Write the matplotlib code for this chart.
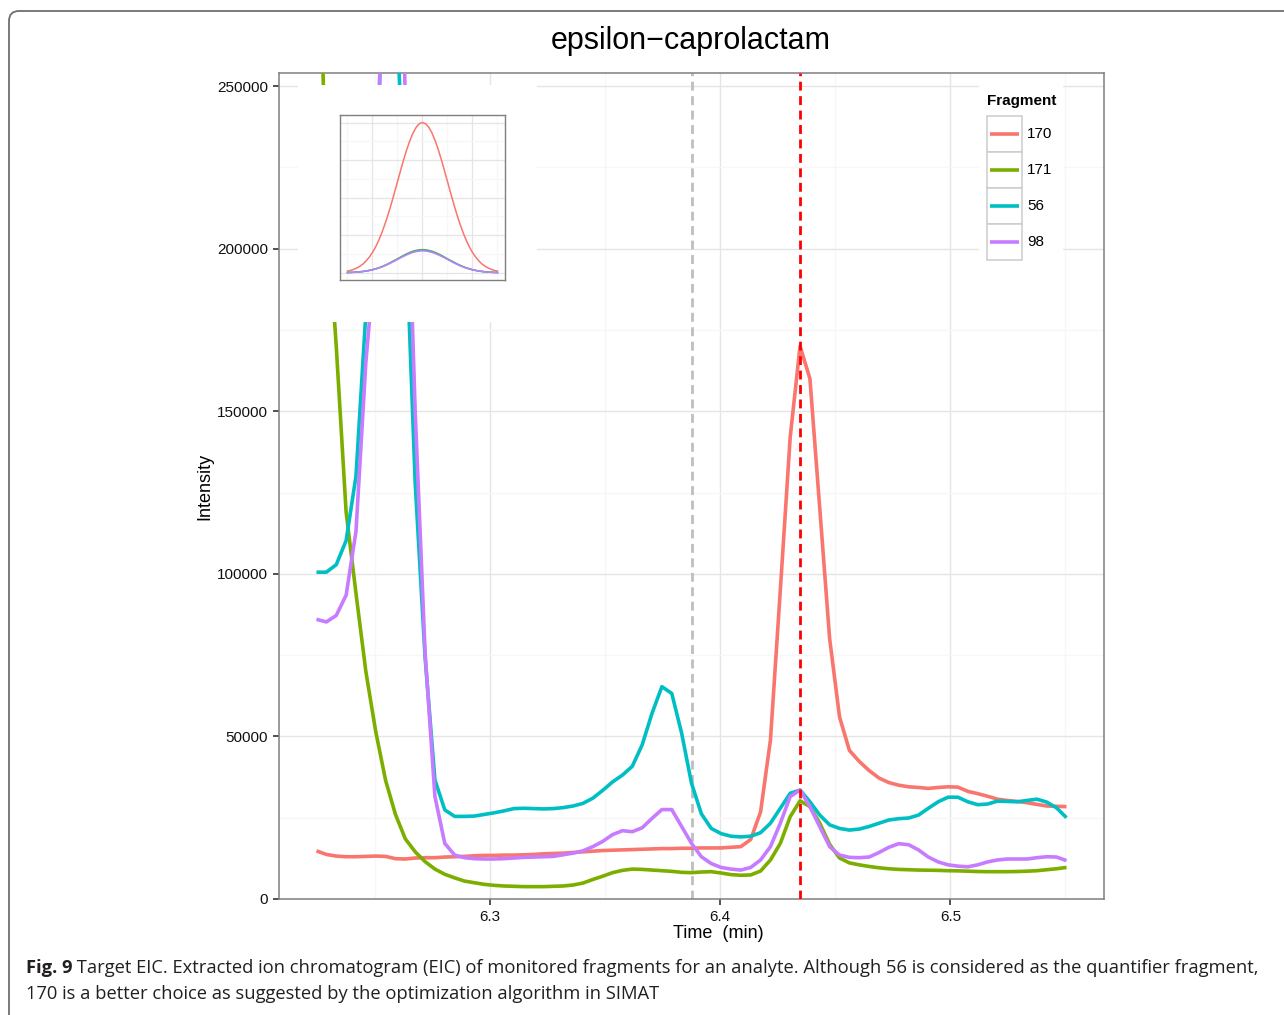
import numpy as np
import matplotlib
matplotlib.use("Agg")
import matplotlib.pyplot as plt
from matplotlib.patches import Rectangle, PathPatch
from matplotlib.path import Path
from matplotlib.lines import Line2D

W, H = 1284, 1015

# scan times (min): 77 scans, regular spacing
time_start, time_step, n_scans = 6.22465, 0.004287, 77
time = time_start + time_step * np.arange(n_scans)

fragments = ["170", "171", "56", "98"]
colors = ["#F8766D", "#7CAE00", "#00BFC4", "#C77CFF"]

int_170 = [14800, 13700, 13200, 13000, 13000, 13100, 13200, 13100, 12400, 12300,
           12600, 12700, 12700, 12900, 13000, 13100, 13300, 13400, 13400, 13500,
           13500, 13600, 13700, 13900, 14000, 14100, 14300, 14500, 14700, 14900,
           15000, 15100, 15200, 15300, 15400, 15500, 15500, 15600, 15600, 15700,
           15700, 15700, 15900, 16100, 18300, 26800, 48900, 95000, 142000, 170000,
           160000, 120000, 80000, 56000, 45700, 42300, 39500, 37200, 35800, 35000,
           34500, 34300, 34000, 34300, 34500, 34400, 33100, 32400, 31600, 30700,
           30300, 30000, 29600, 29100, 28600, 28500, 28400]
int_171 = [330000, 215000, 170000, 119000, 94000, 70000, 51500, 36500, 26000, 18500,
           14500, 11500, 9200, 7600, 6500, 5500, 5000, 4500, 4200, 4000,
           3900, 3800, 3800, 3800, 3900, 4000, 4300, 4900, 6000, 7000,
           8100, 8800, 9200, 9100, 8900, 8700, 8500, 8200, 8100, 8300,
           8400, 8000, 7500, 7300, 7400, 8600, 12000, 17100, 25300, 30200,
           28400, 23300, 16800, 12600, 11100, 10500, 10000, 9600, 9300, 9100,
           9000, 8900, 8850, 8800, 8700, 8650, 8550, 8450, 8400, 8400,
           8400, 8450, 8550, 8700, 9000, 9300, 9700]
int_56 = [100500, 100500, 102800, 110200, 130000, 180000, 199000, 330000, 280000, 210000,
          128000, 74500, 36600, 27400, 25400, 25400, 25500, 26000, 26500, 27100,
          27800, 27900, 27800, 27700, 27800, 28100, 28600, 29400, 31000, 33400,
          36000, 38100, 40800, 47400, 57100, 65300, 63200, 51000, 35600, 26200,
          21700, 20100, 19300, 19100, 19300, 20400, 23300, 27900, 32500, 33500,
          29900, 25800, 22800, 21700, 21200, 21500, 22300, 23300, 24300, 24700,
          24900, 25800, 27900, 29900, 31300, 31300, 29900, 29000, 29200, 30100,
          30000, 29900, 30300, 30700, 29800, 28000, 25000]
int_98 = [86000, 85200, 87200, 93400, 113000, 165000, 200000, 330000, 380000, 245000,
          150000, 76000, 31500, 17100, 13500, 12700, 12400, 12300, 12300, 12400,
          12600, 12800, 12900, 13000, 13100, 13600, 14100, 14800, 16100, 17700,
          19800, 21000, 20700, 21900, 24800, 27500, 27500, 22300, 17100, 13000,
          10900, 9700, 9200, 8900, 9700, 12000, 16100, 23300, 31500, 33500,
          28400, 22200, 16100, 13500, 12800, 12700, 12900, 14300, 15900, 17000,
          16700, 15100, 12900, 11400, 10500, 10100, 9900, 10500, 11400, 12000,
          12300, 12300, 12300, 12700, 13000, 12900, 11800]
series = [int_170, int_171, int_56, int_98]

ref_rt = 6.3878  # grey dashed reference retention time

# inset: modelled peak shapes (relative units)
inset_x = np.arange(-3, 3.001, 0.125)
inset_170 = [1.1, 1.6, 2.3, 3.2, 4.4, 5.9, 8.0, 10.5, 13.5, 17.2, 21.6, 26.7,
             32.5, 38.8, 45.8, 53.1, 60.7, 68.2, 75.5, 82.3, 88.2, 93.2, 96.9, 99.2,
             100,
             99.2, 96.9, 93.2, 88.2, 82.3, 75.5, 68.2, 60.7, 53.1, 45.8, 38.8, 32.5,
             26.7, 21.6, 17.2, 13.5, 10.5, 8.0, 5.9, 4.4, 3.2, 2.3, 1.6, 1.1]
inset_171 = [0.17, 0.25, 0.35, 0.5, 0.7, 0.9, 1.25, 1.6, 2.1, 2.65, 3.3, 4.1,
             5.0, 6.0, 7.1, 8.2, 9.3, 10.5, 11.6, 12.7, 13.6, 14.4, 14.9, 15.3,
             15.4,
             15.3, 14.9, 14.4, 13.6, 12.7, 11.6, 10.5, 9.3, 8.2, 7.1, 6.0, 5.0,
             4.1, 3.3, 2.65, 2.1, 1.6, 1.25, 0.9, 0.7, 0.5, 0.35, 0.25, 0.17]
inset_56 = [0.17, 0.24, 0.34, 0.48, 0.66, 0.9, 1.2, 1.6, 2.0, 2.6, 3.2, 4.0,
            4.9, 5.8, 6.9, 8.0, 9.1, 10.2, 11.3, 12.3, 13.2, 14.0, 14.5, 14.9,
            15.0,
            14.9, 14.5, 14.0, 13.2, 12.3, 11.3, 10.2, 9.1, 8.0, 6.9, 5.8, 4.9,
            4.0, 3.2, 2.6, 2.0, 1.6, 1.2, 0.9, 0.66, 0.48, 0.34, 0.24, 0.17]
inset_98 = [0.16, 0.23, 0.34, 0.47, 0.64, 0.86, 1.2, 1.5, 2.0, 2.5, 3.2, 3.9,
            4.7, 5.7, 6.7, 7.8, 8.9, 10.0, 11.0, 12.0, 12.9, 13.6, 14.1, 14.5,
            14.6,
            14.5, 14.1, 13.6, 12.9, 12.0, 11.0, 10.0, 8.9, 7.8, 6.7, 5.7, 4.7,
            3.9, 3.2, 2.5, 2.0, 1.5, 1.2, 0.86, 0.64, 0.47, 0.34, 0.23, 0.16]
inset_series = [inset_170, inset_171, inset_56, inset_98]

caption_bold = "Fig. 9"
caption_1 = ("Target EIC. Extracted ion chromatogram (EIC) of monitored fragments for an "
             "analyte. Although 56 is considered as the quantifier fragment,")
caption_2 = "170 is a better choice as suggested by the optimization algorithm in SIMAT"

plt.rcParams["font.family"] = ["Liberation Sans", "DejaVu Sans"]


def fx(px):
    return px / W


def fy(py):
    return 1 - py / H


fig = plt.figure(figsize=(W / 100, H / 100), dpi=100)
fig.patch.set_facecolor("white")

# ---- main panel ----
ax = fig.add_axes([fx(279), fy(899), (1104 - 279) / W, (899 - 73) / H])
pad = 0.05 * (time[-1] - time[0])
ax.set_xlim(time[0] - pad, time[-1] + pad)
ax.set_ylim(0, 254000)
ax.set_xticks([6.3, 6.4, 6.5])
ax.set_xticklabels(["6.3", "6.4", "6.5"])
ax.set_xticks([6.25, 6.35, 6.45, 6.55], minor=True)
yt = list(range(0, 250001, 50000))
ax.set_yticks(yt)
ax.set_yticklabels([str(v) for v in yt])
ax.set_yticks(list(range(25000, 250000, 50000)), minor=True)
ax.grid(which="major", color="#E5E5E5", lw=1.0)
ax.grid(which="minor", color="#F7F7F7", lw=1.0)
ax.set_axisbelow(True)
ax.tick_params(which="minor", length=0)
ax.tick_params(which="major", direction="out", length=4.3, width=1.1,
               color="#222222", labelsize=11, pad=3.5, labelcolor="#111111")
for s in ax.spines.values():
    s.set_color("#7F7F7F")
    s.set_linewidth(1.1)

dash = (0, (3.2, 2.0))
ax.axvline(ref_rt, color="#BEBEBE", lw=2.0, ls=dash, zorder=2)
for name, vals, c in zip(fragments, series, colors):
    ax.plot(time, vals, color=c, lw=2.6, solid_capstyle="butt",
            solid_joinstyle="round", zorder=3)
peak_rt = time[int(np.argmax(int_170))]
ax.axvline(peak_rt, color="#FF0000", lw=2.0, ls=dash, zorder=4)

fig.text(fx(691), fy(41), "epsilon\u2212caprolactam", fontsize=22,
         ha="center", va="center")
fig.text(fx(718), fy(933), "Time  (min)", fontsize=13, ha="center", va="center")
fig.text(fx(205), fy(486), "Intensity", fontsize=13, ha="center", va="center",
         rotation=90)

# ---- inset ----
fig.add_artist(Rectangle((fx(298), fy(322)), (537 - 298) / W, (322 - 85) / H,
                         transform=fig.transFigure, facecolor="white",
                         edgecolor="none", zorder=4))
iax = fig.add_axes([fx(340), fy(280), 165 / W, 165 / H])
iax.set_zorder(5)
iax.set_xlim(-3.3, 3.3)
iax.set_ylim(-4.8, 105)
iax.set_xticks([-2, 0, 2])
iax.set_xticks([-3, -1, 1, 3], minor=True)
iax.set_yticks([0, 25, 50, 75, 100])
iax.set_yticks([12.5, 37.5, 62.5, 87.5], minor=True)
iax.grid(which="major", color="#E5E5E5", lw=0.9)
iax.grid(which="minor", color="#F7F7F7", lw=0.9)
iax.set_axisbelow(True)
iax.tick_params(which="both", length=0, labelbottom=False, labelleft=False)
for s in iax.spines.values():
    s.set_color("#7F7F7F")
    s.set_linewidth(1.0)
for vals, c in zip(inset_series, colors):
    iax.plot(inset_x, vals, color=c, lw=1.1)

# ---- legend ----
fig.add_artist(Rectangle((fx(979), fy(268)), (1063 - 979) / W, (268 - 85) / H,
                         transform=fig.transFigure, facecolor="white",
                         edgecolor="none", zorder=6))
fig.text(fx(987), fy(101), "Fragment", fontsize=11, fontweight="bold",
         ha="left", va="center", zorder=7)
for k, (name, c) in enumerate(zip(fragments, colors)):
    top = 116 + 36 * k
    fig.add_artist(Rectangle((fx(987), fy(top + 36)), 35 / W, 36 / H,
                             transform=fig.transFigure, facecolor="white",
                             edgecolor="#CCCCCC", lw=1.1, zorder=7))
    yc = fy(top + 18)
    fig.add_artist(Line2D([fx(990), fx(1019)], [yc, yc], color=c, lw=2.6,
                          solid_capstyle="butt", transform=fig.transFigure,
                          zorder=8))
    fig.text(fx(1027), yc, name, fontsize=11, ha="left", va="center", zorder=8)

# ---- frame ----
frame = Path([(fx(9), fy(1015)), (fx(9), fy(21)), (fx(9), fy(11)), (fx(19), fy(11)),
              (fx(1284), fy(11))],
             [Path.MOVETO, Path.LINETO, Path.CURVE3, Path.CURVE3, Path.LINETO])
fig.add_artist(PathPatch(frame, transform=fig.transFigure, fill=False,
                         edgecolor="#6E6E6E", lw=1.3, zorder=9))

# ---- caption ----
cap_font = ["Open Sans", "DejaVu Sans"]
renderer = fig.canvas.get_renderer()
t_b = fig.text(fx(26), fy(968), caption_bold, fontsize=12, fontweight="bold",
               family=cap_font, color="#231F20", ha="left", va="center")
t_r = fig.text(fx(26), fy(968), " " + caption_1, fontsize=12, family=cap_font,
               color="#231F20", ha="left", va="center")
wb = t_b.get_window_extent(renderer).width
wr = t_r.get_window_extent(renderer).width
fs = 12 * (1252 - 26) / (wb + wr)
t_b.set_fontsize(fs)
t_r.set_fontsize(fs)
wb = t_b.get_window_extent(renderer).width
t_r.set_x(fx(26 + wb))
fig.text(fx(26), fy(994), caption_2, fontsize=fs, family=cap_font,
         color="#231F20", ha="left", va="center")

fig.savefig("out.png", dpi=100)
